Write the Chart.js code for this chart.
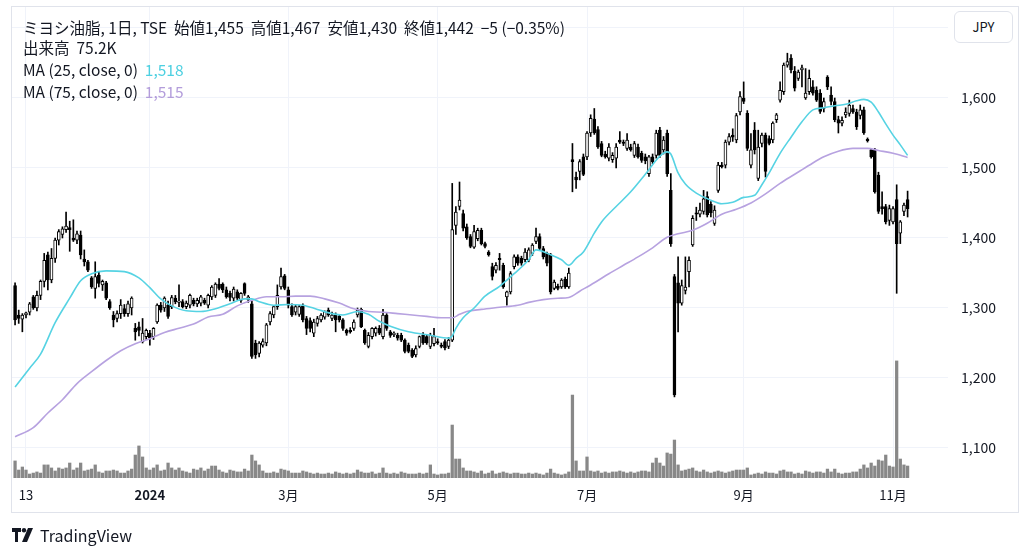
<!DOCTYPE html>
<html><head><meta charset="utf-8">
<script src="https://cdn.jsdelivr.net/npm/chart.js@4.4.1/dist/chart.umd.min.js"></script>
<style>
html,body{margin:0;padding:0;background:#fff;}
#wrap{position:relative;width:1024px;height:557px;overflow:hidden;font-family:'Noto Sans CJK JP','Noto Sans',sans-serif;color:#131722;background:#fff;}
#c{position:absolute;left:0;top:0;}
.frame{position:absolute;left:11px;top:6px;width:1008px;height:507px;border:1px solid #e0e3eb;box-sizing:border-box;pointer-events:none;}
.hdr{position:absolute;left:23px;font-size:15.5px;line-height:20px;white-space:pre;color:#131722;}
.jpy{position:absolute;left:954px;top:11px;width:59px;height:32px;box-sizing:border-box;border:1px solid #e0e3eb;border-radius:6px;background:#fff;font-size:13px;line-height:30px;text-align:center;color:#131722;}
.logo{position:absolute;left:12px;top:526px;height:18px;display:flex;align-items:center;gap:4px;font-size:16px;color:#131722;}
</style></head>
<body><div id="wrap">
<canvas id="c" width="1024" height="557"></canvas>
<div class="frame"></div>
<div class="hdr" style="top:17px">ミヨシ油脂, 1日, TSE  始値1,455  高値1,467  安値1,430  終値1,442  −5 (−0.35%)</div>
<div class="hdr" style="top:37px">出来高  75.2K</div>
<div class="hdr" style="top:59px">MA (25, close, 0)  <span style="color:#4dd0e1">1,518</span></div>
<div class="hdr" style="top:81px">MA (75, close, 0)  <span style="color:#b39ddb">1,515</span></div>
<div class="jpy">JPY</div>
<div class="logo"><svg width="24" height="14" viewBox="0 0 24 14"><path d="M0 0h9v4H6v10H3V4H0z" fill="#131722"/><circle cx="12" cy="2.2" r="2.2" fill="#131722"/><path d="M16 0h5l-6 14h-5z" fill="#131722"/></svg><span>TradingView</span></div>
</div>
<script>
// ---- data (bar index 0 = 13 Nov 2023; first visible bar index = -3) ----
const firstBar = -3;
const open = [
1332,1290,1284,1290,1294,1316,1300,1318,1338,1376,
1340,1371,1397,1405,1412,1415,1400,1397,1404,1370,
1366,1343,1328,1347,1333,1336,1309,1290,1285,1292,
1299,1292,1300,1271,1273,1252,1259,1264,1259,1280,
1304,1300,1304,1302,1314,1308,1309,1302,1304,1311,
1306,1307,1311,1304,1316,1318,1334,1334,1326,1321,
1314,1323,1311,1335,1312,1306,1250,1235,1247,1250,
1280,1290,1302,1330,1346,1326,1302,1294,1291,1303,
1285,1282,1264,1278,1283,1287,1297,1285,1290,1288,
1283,1268,1268,1271,1290,1298,1268,1245,1259,1264,
1271,1259,1290,1266,1262,1261,1261,1254,1247,1240,
1233,1245,1261,1259,1245,1249,1252,1247,1252,1245,
1254,1418,1445,1435,1416,1402,1387,1399,1411,1392,
1380,1359,1354,1371,1361,1316,1323,1359,1373,1371,
1369,1369,1378,1395,1402,1385,1378,1376,1328,1331,
1330,1341,1330,1512,1487,1495,1516,1516,1550,1570,
1555,1535,1520,1514,1512,1514,1540,1537,1528,1530,
1518,1530,1521,1516,1492,1516,1518,1554,1526,1550,
1468,1345,1336,1307,1325,1352,1390,1436,1434,1438,
1459,1448,1421,1468,1504,1504,1537,1547,1540,1580,
1600,1578,1504,1554,1485,1535,1547,1542,1540,1569,
1597,1609,1647,1657,1638,1628,1640,1600,1609,1616,
1611,1607,1585,1630,1604,1595,1569,1564,1576,1578,
1585,1580,1575,1583,1541,1526,1526,1490,1445,1445,
1425,1423,1455,1407,1438,1455];
const high = [
1336,1297,1292,1294,1308,1318,1324,1340,1378,1380,
1385,1400,1412,1416,1437,1424,1426,1410,1410,1383,
1368,1345,1366,1352,1340,1338,1312,1295,1296,1312,
1305,1310,1316,1278,1280,1285,1270,1268,1272,1306,
1308,1316,1310,1318,1318,1333,1312,1310,1320,1314,
1314,1318,1314,1320,1332,1336,1342,1336,1330,1324,
1330,1326,1322,1336,1318,1310,1254,1252,1256,1278,
1295,1302,1333,1357,1348,1330,1306,1304,1304,1306,
1288,1286,1284,1288,1292,1296,1300,1294,1293,1290,
1285,1270,1272,1283,1300,1300,1270,1265,1272,1273,
1275,1298,1292,1268,1266,1264,1264,1256,1250,1242,
1246,1260,1265,1262,1264,1271,1256,1250,1255,1258,
1478,1445,1480,1440,1420,1405,1418,1414,1414,1394,
1382,1364,1365,1378,1364,1324,1352,1376,1376,1374,
1385,1386,1392,1414,1406,1388,1380,1378,1340,1334,
1342,1344,1357,1535,1494,1512,1520,1552,1576,1585,
1559,1538,1524,1535,1522,1535,1552,1540,1549,1534,
1538,1534,1524,1520,1518,1520,1554,1558,1545,1554,
1492,1348,1373,1340,1373,1373,1432,1444,1450,1468,
1466,1452,1446,1508,1508,1540,1549,1556,1578,1609,
1623,1582,1549,1565,1554,1550,1550,1546,1566,1578,
1623,1650,1664,1662,1645,1640,1647,1642,1640,1625,
1616,1612,1600,1632,1616,1600,1574,1573,1586,1597,
1590,1584,1590,1587,1543,1528,1528,1494,1466,1448,
1447,1445,1476,1425,1450,1467];
const low = [
1276,1278,1266,1286,1290,1298,1296,1312,1330,1326,
1336,1365,1390,1400,1408,1381,1395,1392,1370,1360,
1352,1328,1314,1330,1325,1312,1298,1273,1280,1285,
1288,1288,1290,1254,1260,1250,1255,1247,1255,1278,
1294,1295,1285,1299,1306,1302,1300,1299,1300,1303,
1302,1303,1305,1300,1312,1315,1326,1322,1314,1310,
1310,1312,1308,1318,1308,1228,1228,1230,1244,1246,
1276,1286,1298,1327,1326,1300,1288,1290,1288,1280,
1262,1266,1259,1274,1280,1284,1288,1282,1266,1280,
1268,1261,1264,1268,1287,1272,1248,1243,1256,1260,
1262,1256,1268,1258,1259,1254,1252,1236,1236,1229,
1230,1243,1248,1248,1242,1246,1248,1243,1240,1242,
1252,1405,1440,1410,1398,1386,1385,1396,1390,1386,
1374,1340,1350,1354,1328,1304,1320,1356,1361,1361,
1366,1366,1375,1392,1383,1370,1360,1320,1326,1326,
1328,1328,1328,1466,1471,1483,1489,1512,1545,1548,
1528,1516,1514,1510,1508,1500,1535,1532,1525,1524,
1515,1514,1508,1506,1488,1506,1514,1515,1520,1488,
1388,1173,1266,1304,1320,1330,1388,1425,1430,1434,
1430,1430,1418,1465,1500,1500,1533,1538,1536,1576,
1592,1525,1500,1520,1482,1530,1487,1533,1536,1565,
1594,1605,1644,1636,1610,1625,1616,1598,1605,1604,
1595,1578,1580,1612,1590,1566,1550,1560,1572,1574,
1578,1555,1570,1548,1537,1514,1464,1435,1434,1420,
1418,1420,1321,1392,1432,1430];
const close = [
1283,1285,1290,1293,1306,1300,1318,1338,1368,1340,
1371,1397,1409,1413,1417,1412,1397,1406,1376,1366,
1354,1330,1345,1335,1338,1314,1300,1283,1292,1304,
1292,1306,1314,1266,1268,1264,1268,1257,1271,1304,
1297,1314,1288,1315,1309,1310,1302,1307,1318,1306,
1311,1316,1307,1318,1330,1334,1328,1326,1316,1315,
1327,1314,1321,1321,1316,1231,1233,1250,1252,1276,
1292,1302,1318,1345,1328,1304,1290,1302,1302,1283,
1271,1271,1280,1285,1290,1295,1290,1290,1283,1283,
1271,1264,1266,1280,1297,1273,1250,1261,1271,1271,
1264,1290,1271,1261,1264,1257,1254,1238,1238,1231,
1242,1259,1250,1250,1261,1259,1250,1245,1243,1254,
1412,1437,1454,1414,1400,1388,1409,1411,1392,1388,
1376,1345,1361,1369,1330,1323,1349,1373,1364,1364,
1380,1383,1390,1402,1385,1373,1364,1323,1337,1328,
1340,1330,1350,1509,1483,1509,1491,1550,1571,1550,
1530,1518,1516,1530,1518,1530,1537,1535,1540,1526,
1535,1516,1511,1510,1516,1509,1550,1518,1540,1492,
1392,1176,1307,1332,1330,1368,1428,1434,1440,1456,
1433,1436,1440,1504,1502,1537,1545,1544,1575,1602,
1595,1528,1526,1526,1530,1547,1495,1535,1564,1576,
1611,1647,1652,1640,1614,1637,1643,1607,1628,1607,
1597,1581,1595,1616,1595,1569,1564,1568,1580,1590,
1580,1559,1583,1550,1539,1516,1466,1438,1442,1423,
1442,1442,1392,1423,1447,1442];
// volume in thousands of shares
const volumeK = [
107,50,69,50,25,31,38,31,82,82,
63,44,63,56,63,94,50,63,94,44,
50,56,82,38,31,44,44,50,44,31,
31,44,56,144,201,132,63,50,63,82,
44,50,94,63,50,63,44,38,31,56,
50,63,44,56,75,75,50,38,31,50,
44,38,38,56,44,144,107,82,44,31,
31,38,31,56,50,44,31,31,31,44,
38,31,25,31,25,25,31,25,38,31,
25,31,25,31,50,38,31,31,38,25,
31,63,31,25,31,25,38,31,25,25,
25,31,25,31,82,25,19,25,25,31,
332,119,119,63,44,44,38,31,44,25,
31,44,25,31,38,31,25,31,31,25,
25,31,25,31,25,19,31,56,31,25,
19,25,38,520,107,44,44,132,44,38,
44,31,38,31,38,38,44,38,31,38,
31,38,44,44,38,94,125,94,75,157,
150,238,82,44,50,56,63,44,38,50,
38,31,38,44,38,31,38,44,50,50,
50,63,19,25,31,25,38,31,31,25,
44,50,38,38,25,31,25,44,38,31,
38,38,31,56,38,56,31,25,31,31,
38,38,56,82,63,94,75,113,107,144,
75,69,734,119,82,75.2];
// moving averages (bar index, value)
const ma25Bars = [-3,1,4,8,12,15,18,22,27,31,34,37,40,44,48,52,56,60,62,64,68,72,76,80,84,87,91,94,97,100,105,111,116,117,118,120,123,126,130,134,138,140,144,147,149,151,153,156,158,162,166,170,174,176,177,179,181,184,188,191,194,197,200,202,204,207,210,213,216,219,222,225,228,230,232,234,236,238,240,242];
const ma25 = [1187,1214,1234,1279,1314,1339,1349,1353,1352,1343,1329,1313,1303,1296,1295,1299,1306,1313,1313,1309,1304,1305,1304,1298,1292,1290,1295,1291,1281,1274,1266,1261,1257,1260,1271,1286,1300,1317,1331,1349,1369,1383,1376,1369,1361,1371,1380,1407,1423,1445,1466,1491,1517,1523,1520,1493,1477,1464,1454,1449,1451,1458,1461,1476,1493,1521,1544,1566,1583,1586,1589,1591,1596,1598,1594,1580,1563,1547,1533,1518];
const ma75Bars = [-3,2,6,10,14,18,22,26,30,34,38,42,46,50,54,58,62,66,70,74,78,82,86,90,94,98,102,106,110,114,117,119,121,125,130,135,138,142,146,149,152,156,160,164,168,172,176,179,183,187,191,195,199,203,207,211,215,219,223,227,231,234,238,242];
const ma75 = [1116,1129,1150,1169,1192,1209,1225,1239,1249,1256,1265,1271,1277,1287,1291,1303,1311,1316,1316,1317,1317,1313,1307,1299,1295,1294,1292,1290,1288,1286,1286,1291,1295,1298,1301,1304,1308,1312,1314,1315,1324,1336,1349,1361,1373,1386,1401,1406,1411,1421,1434,1441,1450,1463,1478,1491,1504,1516,1524,1528,1528,1525,1521,1515];
const priceTicks = [1100,1200,1300,1400,1500,1600,1700];
const priceTickLabels = ['1,100','1,200','1,300','1,400','1,500','1,600',''];
const monthTickBars = [0,34,72,113,154,197,238];
const monthTickLabels = ['13','2024','3月','5月','7月','9月','11月'];

// ---- build datasets ----
const barX = open.map((_, k) => firstBar + k);
const wickData = barX.map((x, k) => ({x: x, y: [low[k], high[k]]}));
const bodyData = barX.map((x, k) => ({x: x, y: [Math.min(open[k], close[k]), Math.max(open[k], close[k])]}));
const bodyFill = barX.map((x, k) => close[k] >= open[k] ? '#ffffff' : '#000000');
const volData = barX.map((x, k) => ({x: x, y: volumeK[k]}));
const ma25Data = ma25Bars.map((x, k) => ({x: x, y: ma25[k]}));
const ma75Data = ma75Bars.map((x, k) => ({x: x, y: ma75[k]}));

const FONT = "'Noto Sans CJK JP','Noto Sans',sans-serif";
new Chart(document.getElementById('c'), {
  type: 'bar',
  data: { datasets: [
    {type:'line', data: ma25Data, borderColor:'#56d3e3', borderWidth:1.6, pointRadius:0, cubicInterpolationMode:'monotone', yAxisID:'y', order:0},
    {type:'line', data: ma75Data, borderColor:'#b7a2e0', borderWidth:1.6, pointRadius:0, cubicInterpolationMode:'monotone', yAxisID:'y', order:0},
    {type:'bar', data: bodyData, backgroundColor: bodyFill, borderColor:'#000', borderWidth:1, borderSkipped:false, barThickness:3, minBarLength:1, grouped:false, yAxisID:'y', order:1},
    {type:'bar', data: wickData, backgroundColor:'#000', borderWidth:0, barThickness:1, grouped:false, yAxisID:'y', order:2},
    {type:'bar', data: volData, backgroundColor:'#888888', borderWidth:0, barThickness:2.6, grouped:false, yAxisID:'yv', order:5}
  ]},
  options: {
    responsive:false, animation:false, devicePixelRatio:1,
    layout:{autoPadding:false, padding:{left:12, top:7, right:0, bottom:45}},
    plugins:{legend:{display:false}, tooltip:{enabled:false}},
    scales:{
      x:{type:'linear', min:-3.843, max:253.09, offset:false,
         grid:{color:'#f0f3fa', drawTicks:false, offset:false}, border:{display:false},
         afterBuildTicks: s => { s.ticks = monthTickBars.map(v => ({value:v})); },
         afterFit: s => { s.height = 34; s.paddingLeft = 0; s.paddingRight = 0; },
         ticks:{autoSkip:false, maxRotation:0, padding:9, color:'#131722',
           font: c => ({family:FONT, size:13, weight: (c.tick && c.tick.value === 34) ? 'bold' : 'normal'}),
           callback: v => { const j = monthTickBars.indexOf(v); return j >= 0 ? monthTickLabels[j] : ''; }}
      },
      y:{position:'right', min:1057.14, max:1730,
         grid:{color:'#f0f3fa', drawTicks:false}, border:{display:false},
         afterBuildTicks: s => { s.ticks = priceTicks.map(v => ({value:v})); },
         afterFit: s => { s.width = 76; s.paddingTop = 0; s.paddingBottom = 0; },
         ticks:{padding:13, color:'#131722', font:{family:FONT, size:14},
           callback: v => { const j = priceTicks.indexOf(v); return j >= 0 ? priceTickLabels[j] : ''; }}
      },
      yv:{display:false, min:0, max:2953}
    }
  }
});
</script>
</body></html>
